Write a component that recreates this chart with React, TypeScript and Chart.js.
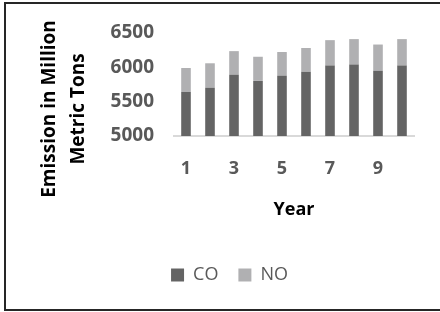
import React, { useEffect, useRef } from "react";
import { Chart, registerables } from "chart.js";

Chart.register(...registerables);

const years = ["1", "2", "3", "4", "5", "6", "7", "8", "9", "10"];
const coValues = [5640, 5702, 5891, 5802, 5876, 5936, 6025, 6040, 5950, 6025];
const noValues = [350, 357, 345, 352, 347, 346, 371, 371, 382, 386];
const yTicks = [5000, 5500, 6000, 6500];
const yTitleLines = ["Emission in Million", "Metric Tons"];
const xTitle = "Year";

const FONT = "'Open Sans', 'DejaVu Sans', sans-serif";

const yTitlePlugin = {
  id: "yTitleTwoLines",
  afterDraw(chart: any) {
    const { ctx, chartArea } = chart;
    ctx.save();
    ctx.font = `bold 19px ${FONT}`;
    ctx.fillStyle = "#000000";
    ctx.textAlign = "center";
    ctx.textBaseline = "middle";
    const cx = chartArea.left - 124;
    const cy = chartArea.top + 76;
    ctx.translate(cx, cy);
    ctx.rotate(-Math.PI / 2);
    yTitleLines.forEach((line, i) => {
      ctx.fillText(line, 0, i * 29);
    });
    ctx.restore();
  },
};

export default function App() {
  const ref = useRef<HTMLCanvasElement | null>(null);

  useEffect(() => {
    if (!ref.current) return;
    const chart = new Chart(ref.current, {
      type: "bar",
      data: {
        labels: years,
        datasets: [
          {
            label: "CO",
            data: coValues,
            backgroundColor: "#646464",
            barPercentage: 1,
            categoryPercentage: 0.4,
          },
          {
            label: "NO",
            data: noValues,
            backgroundColor: "#b0b0b2",
            barPercentage: 1,
            categoryPercentage: 0.4,
          },
        ],
      },
      options: {
        animation: false,
        responsive: false,
        maintainAspectRatio: false,
        layout: { padding: { left: 45, right: 26, top: 33, bottom: 18 } },
        plugins: {
          legend: {
            position: "bottom",
            labels: {
              boxWidth: 13,
              boxHeight: 13,
              padding: 20,
              color: "#595959",
              font: { family: FONT, size: 18 },
            },
          },
          tooltip: { enabled: false },
        },
        scales: {
          x: {
            stacked: true,
            grid: { display: false, drawTicks: false },
            border: { display: true, color: "#d9d9d9", width: 2 },
            ticks: {
              color: "#595959",
              font: { family: FONT, size: 18, weight: "bold" },
              padding: 22,
              autoSkip: false,
              maxRotation: 0,
              callback: function (this: any, val: any, idx: number) {
                return idx % 2 === 0 ? this.getLabelForValue(val) : "";
              },
            },
            title: {
              display: true,
              text: xTitle,
              color: "#000000",
              font: { family: FONT, size: 18, weight: "bold" },
              padding: { top: 0, bottom: 25 },
            },
            afterFit: (scale: any) => {
              scale.height = 110;
            },
          },
          y: {
            stacked: true,
            min: yTicks[0],
            max: yTicks[yTicks.length - 1],
            grid: { display: false, drawTicks: false },
            border: { display: false },
            afterBuildTicks: (scale: any) => {
              scale.ticks = yTicks.map((v) => ({ value: v }));
            },
            ticks: {
              color: "#595959",
              font: { family: FONT, size: 19, weight: "bold" },
              padding: 20,
              callback: (val: any) => String(val),
            },
            afterFit: (scale: any) => {
              scale.width = 129;
            },
          },
        },
      },
      plugins: [yTitlePlugin],
    });
    return () => chart.destroy();
  }, []);

  return (
    <div style={{ position: "fixed", left: 0, top: 0, width: 440, height: 312, background: "#ffffff" }}>
      <canvas ref={ref} width={440} height={312} style={{ position: "absolute", left: 0, top: 0, width: 440, height: 312 }} />
      <div
        style={{
          position: "absolute",
          left: 4,
          top: 2,
          width: 450,
          height: 309,
          boxSizing: "border-box",
          border: "2px solid #262626",
          pointerEvents: "none",
        }}
      />
    </div>
  );
}
